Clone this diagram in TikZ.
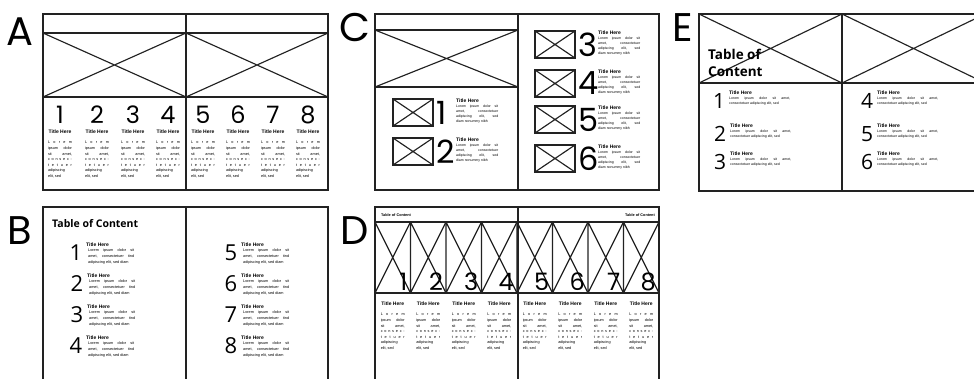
\documentclass[tikz,border=0pt]{standalone}
\usepackage{fontspec}
\setmainfont{Liberation Sans}
\newfontfamily\geofont{Poppins}
\newfontfamily\tocfont{Open Sans}
\usetikzlibrary{positioning}
\definecolor{ink}{HTML}{222222}

% one stretched line of dummy text
\newcommand{\sline}[2]{\hbox to #1{#2}}
% narrow column text (A and D)
\newcommand{\colblurb}{\sline{24pt}{L\hfill o\hfill r\hfill e\hfill m}\\ \sline{24pt}{ipsum\hfill dolor}\\ \sline{24pt}{sit\hfill amet,}\\
  \sline{24pt}{c\hfill o\hfill n\hfill s\hfill e\hfill c\hfill -}\\ \sline{24pt}{t\hfill e\hfill t\hfill u\hfill e\hfill r}\\ \sline{24pt}{adipiscing\hfill}\\ elit, sed}
% entry text (B)
\newcommand{\tocblurb}{\sline{46pt}{Lorem\hfill ipsum\hfill dolor\hfill sit}\\ \sline{46pt}{amet,\hfill consectetuer\hfill tind}\\ adipiscing elit, sed diam}
% entry text (C)
\newcommand{\thumbblurb}{\sline{42pt}{Lorem\hfill ipsum\hfill dolor\hfill sit}\\ \sline{42pt}{amet,\hfill consectetuer}\\ \sline{42pt}{adipiscing\hfill elit,\hfill sed}\\ diam nonummy nibh}
% entry text (E)
\newcommand{\wideblurb}{\sline{61pt}{Lorem\hfill ipsum\hfill dolor\hfill sit\hfill amet,}\\ consectetuer adipiscing elit, sed}

\begin{document}
\begin{tikzpicture}[x=1pt, y=-1pt,
    frame/.style={draw=ink, line width=1.15pt},
    panel/.style={font=\geofont\fontsize{40}{40}\selectfont, inner sep=0pt},
    bignum/.style={font=\geofont\fontsize{24}{24}\selectfont, inner sep=0pt},
    thumbnum/.style={font=\geofont\fontsize{32}{32}\selectfont, inner sep=0pt},
    tocnum/.style={font=\tocfont\fontsize{22}{22}\selectfont, inner sep=0pt},
    toctitle/.style={font=\tocfont\bfseries\fontsize{10.5}{12}\selectfont, inner sep=0pt, anchor=base west},
    ttl/.style={font=\bfseries\fontsize{5}{5}\selectfont, inner sep=0pt},
    blurb/.style={font=\fontsize{3.8}{5.6}\selectfont, inner sep=0pt, align=left},
    smallblurb/.style={font=\fontsize{3.5}{5}\selectfont, inner sep=0pt, align=left}
  ]
  \useasboundingbox (0,0) rectangle (974,379);
  \clip (0,0) rectangle (974,379);

  % A: eight columns under one wide picture
  \node[panel] (labA) at (20,32) {A};
  \draw[frame] (43,14) rectangle (328,190);
  \draw[frame] (186,14) -- (186,190);
  \draw[frame] (43,33) -- (328,33) (43,97) -- (328,97);
  \draw[frame] (43,33) -- (186,97) (43,97) -- (186,33);
  \draw[frame] (186,33) -- (328,97) (186,97) -- (328,33);
  \foreach \n/\x in {1/60,2/97,3/133,4/168,5/203,6/238,7/273,8/308} {
    \node[bignum] (a\n) at (\x,115) {\n};
    \node[ttl] (at\n) at (\x,132) {Title Here};
    \node[blurb, below=7pt of at\n] (ab\n) {\colblurb};
  }

  % B: plain table of content
  \node[panel] (labB) at (20,231) {B};
  \draw[frame] (43,207) rectangle (328,390);
  \draw[frame] (186,207) -- (186,390);
  \node[toctitle] (btoc) at (52,228) {Table of Content};
  \foreach \n/\x/\y in {1/76/253,2/77/284,3/77/315,4/76/346,5/231/253,6/231/284,7/231/315,8/231/346} {
    \node[tocnum] (b\n) at (\x,\y) {\n};
    \node[ttl, anchor=west] (bt\n) at (\x+10,\y-8) {Title Here};
    \node[blurb, below=2pt of bt\n.south west, anchor=north west, xshift=2pt] (bb\n) {\tocblurb};
  }

  % C: thumbnails with numbers
  \node[panel] (labC) at (355,28) {C};
  \draw[frame] (375,14) rectangle (659,190);
  \draw[frame] (518,14) -- (518,190);
  \draw[frame] (375,30) -- (518,30) (375,87) -- (518,87);
  \draw[frame] (375,30) -- (518,87) (375,87) -- (518,30);
  \foreach \n/\x/\y in {1/393/99,2/393/138,3/535/31,4/535/70,5/535/106,6/535/145} {
    \draw[frame] (\x,\y) rectangle ++(40,27);
    \draw[frame] (\x,\y) -- ++(40,27) (\x,\y+27) -- ++(40,-27);
    \node[thumbnum, anchor=west] (c\n) at (\x+43,\y+13.5) {\n};
    \node[ttl, anchor=north west] (ct\n) at (\x+63,\y) {Title Here};
    \node[smallblurb, below=2pt of ct\n.south west, anchor=north west] (cb\n) {\thumbblurb};
  }

  % D: eight tall pictures with numbers
  \node[panel] (labD) at (355,231) {D};
  \draw[frame] (375,207) rectangle (659,390);
  \draw[frame] (518,207) -- (518,390);
  \draw[frame] (375,222) -- (659,222) (375,293) -- (659,293);
  \node[font=\bfseries\fontsize{3.8}{4}\selectfont, inner sep=0pt, anchor=west] (dtocl) at (381,215) {Table of Content};
  \node[font=\bfseries\fontsize{3.8}{4}\selectfont, inner sep=0pt, anchor=east] (dtocr) at (655,215) {Table of Content};
  \foreach \n in {1,...,8} {
    \pgfmathsetmacro{\xl}{375+35.5*(\n-1)}
    \pgfmathsetmacro{\xr}{375+35.5*\n}
    \draw[frame] (\xl,222) -- (\xl,293) (\xl,222) -- (\xr,293) (\xl,293) -- (\xr,222);
    \node[bignum, anchor=south east] (d\n) at (\xr-3,291) {\n};
    \node[ttl] (dt\n) at ({(\xl+\xr)/2},304) {Title Here};
    \node[blurb, below=7pt of dt\n] (db\n) {\colblurb};
  }

  % E: cover pictures with table of content
  \node[panel] (labE) at (683,28) {E};
  \draw[frame] (699,14) rectangle (985,191);
  \draw[frame] (842,14) -- (842,191);
  \draw[frame] (699,83) -- (985,83);
  \draw[frame] (699,14) -- (842,83) (699,83) -- (842,14);
  \draw[frame] (842,14) -- (985,83) (842,83) -- (985,14);
  \node[toctitle, font=\tocfont\bfseries\fontsize{13.5}{17}\selectfont, align=left, anchor=north west] (etoc) at (708,49) {Table of\\Content};
  \foreach \n/\x/\y in {1/719/101,2/720/134,3/720/162,4/867/101,5/867/134,6/867/162} {
    \node[tocnum, font=\tocfont\fontsize{21}{21}\selectfont] (e\n) at (\x,\y) {\n};
    \node[ttl, anchor=west] (et\n) at (\x+10,\y-8) {Title Here};
    \node[smallblurb, below=2pt of et\n.south west, anchor=north west] (eb\n) {\wideblurb};
  }
\end{tikzpicture}
\end{document}
